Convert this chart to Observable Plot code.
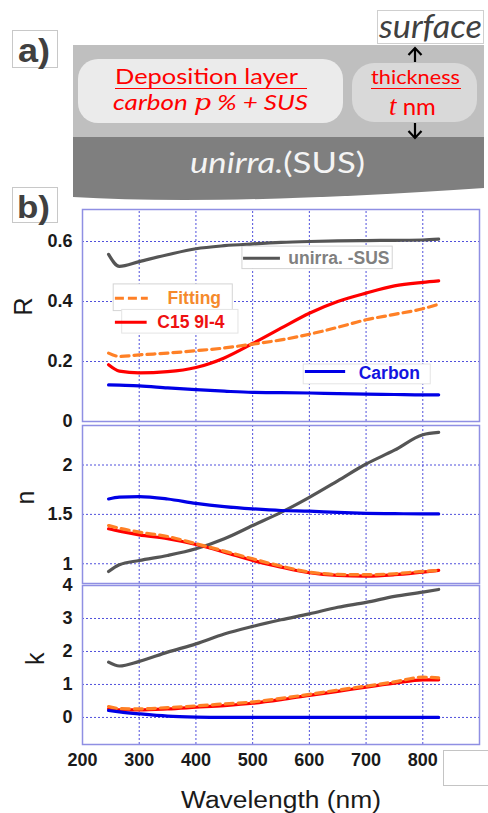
<!DOCTYPE html>
<html>
<head>
<meta charset="utf-8">
<script src="https://cdn.jsdelivr.net/npm/d3@7"></script>
<script src="https://cdn.jsdelivr.net/npm/@observablehq/plot@0.6"></script>
<style>
  html, body { margin: 0; padding: 0; background: white; }
  #root { position: relative; width: 488px; height: 813px; overflow: hidden; background: white; }
  #schem { position: absolute; left: 0; top: 0; z-index: 0; }
  .pl { position: relative; z-index: 1; width: 488px; }
</style>
</head>
<body>
<div id="root">
  <svg id="schem" width="488" height="813" font-family="Lato, 'Noto Sans', sans-serif">
    <rect x="12.5" y="30.5" width="45" height="37" fill="white" stroke="#c8c8c8"/>
    <text x="18" y="62" font-family="'Liberation Sans', Arial, sans-serif" font-weight="bold" font-size="33" fill="#404040" textLength="32" lengthAdjust="spacingAndGlyphs">a)</text>
    <rect x="73" y="45" width="411" height="92" fill="#bfbfbf"/>
    <path d="M73,137 H484 V188 Q220,206 73,197 Z" fill="#7f7f7f"/>
    <rect x="78" y="59" width="265" height="64" rx="20" fill="#ebebeb"/>
    <rect x="352" y="63" width="125" height="59" rx="22" fill="#d9d9d9"/>
    <text x="115" y="84" font-size="21" fill="#ff0000" textLength="183" lengthAdjust="spacingAndGlyphs">Deposition layer</text>
    <line x1="115" x2="307" y1="88.5" y2="88.5" stroke="#ff0000" stroke-width="1"/>
    <text x="113" y="110" font-size="21" fill="#ff0000" font-style="italic" textLength="195" lengthAdjust="spacingAndGlyphs">carbon <tspan font-family="'DejaVu Serif', 'Liberation Serif', serif" font-size="22">p</tspan> % + SUS</text>
    <text x="371" y="84" font-size="20" fill="#ff0000" textLength="89" lengthAdjust="spacingAndGlyphs">thickness</text>
    <line x1="371" x2="461" y1="88.5" y2="88.5" stroke="#ff0000" stroke-width="1"/>
    <text x="389" y="115" font-size="24" fill="#ff0000"><tspan font-family="'Liberation Serif', serif" font-style="italic" font-size="27">t</tspan> nm</text>
    <line x1="415" x2="415" y1="48" y2="62" stroke="black" stroke-width="2.2"/>
    <polyline points="408.5,55 415,48 421.5,55" fill="none" stroke="black" stroke-width="2.2"/>
    <line x1="415" x2="415" y1="123" y2="138" stroke="black" stroke-width="2.2"/>
    <polyline points="408.5,131 415,138 421.5,131" fill="none" stroke="black" stroke-width="2.2"/>
    <rect x="377.5" y="10.5" width="106" height="33" fill="white" stroke="#cfcfcf"/>
    <text x="379" y="38" font-size="32" font-style="italic" fill="#404040" textLength="103" lengthAdjust="spacingAndGlyphs">surface</text>
    <text x="190" y="173" font-size="28" fill="#f4f4f4" textLength="175" lengthAdjust="spacingAndGlyphs"><tspan font-style="italic">unirra.</tspan>(SUS)</text>
    <rect x="12.5" y="187.5" width="45" height="35" fill="white" stroke="#c8c8c8"/>
    <text x="17" y="218" font-family="'Liberation Sans', Arial, sans-serif" font-weight="bold" font-size="31" fill="#404040" textLength="33" lengthAdjust="spacingAndGlyphs">b)</text>
    <rect x="443.5" y="750.5" width="50" height="35" fill="white" stroke="#c4c4c4"/>
  </svg>
  <div class="pl" style="height:200px"></div>
  <div id="pR" class="pl"></div>
  <div id="pN" class="pl" style="margin-top:-5px"></div>
  <div id="pK" class="pl" style="margin-top:-7px"></div>
</div>
<script>
// ---------- data ----------
const wl = [246, 265, 300, 350, 400, 450, 500, 550, 600, 650, 700, 750, 800, 828];
const seriesNames = ["unirra. -SUS", "Fitting", "C15 9I-4", "Carbon"];

const R_sus    = [0.557, 0.517, 0.533, 0.556, 0.576, 0.586, 0.592, 0.597, 0.600, 0.602, 0.603, 0.604, 0.605, 0.608];
const R_fit    = [0.228, 0.217, 0.222, 0.228, 0.236, 0.245, 0.258, 0.272, 0.291, 0.314, 0.339, 0.357, 0.376, 0.391];
const R_c15    = [0.189, 0.168, 0.162, 0.166, 0.180, 0.212, 0.260, 0.311, 0.361, 0.400, 0.428, 0.452, 0.464, 0.469];
const R_carbon = [0.122, 0.121, 0.119, 0.112, 0.106, 0.101, 0.097, 0.096, 0.095, 0.093, 0.091, 0.090, 0.089, 0.089];

const n_sus    = [0.922, 0.990, 1.033, 1.084, 1.151, 1.253, 1.387, 1.520, 1.673, 1.840, 2.010, 2.150, 2.306, 2.330];
const n_fit    = [1.387, 1.360, 1.320, 1.276, 1.203, 1.128, 1.050, 0.976, 0.916, 0.892, 0.889, 0.899, 0.923, 0.932];
const n_c15    = [1.354, 1.330, 1.293, 1.253, 1.195, 1.118, 1.034, 0.966, 0.909, 0.882, 0.875, 0.889, 0.916, 0.932];
const n_carbon = [1.656, 1.675, 1.680, 1.656, 1.612, 1.579, 1.556, 1.539, 1.532, 1.520, 1.511, 1.507, 1.505, 1.505];

const k_sus    = [1.676, 1.560, 1.700, 1.980, 2.230, 2.530, 2.760, 2.960, 3.140, 3.340, 3.490, 3.670, 3.800, 3.880];
const k_fit    = [0.330, 0.270, 0.260, 0.300, 0.350, 0.410, 0.470, 0.580, 0.700, 0.830, 0.950, 1.080, 1.220, 1.200];
const k_c15    = [0.260, 0.230, 0.230, 0.260, 0.310, 0.360, 0.430, 0.540, 0.670, 0.790, 0.920, 1.040, 1.140, 1.140];
const k_carbon = [0.210, 0.170, 0.110, 0.040, 0.010, 0.000, 0.000, 0.000, 0.000, 0.000, 0.000, 0.000, 0.000, 0.000];

const xTicks = [200, 300, 400, 500, 600, 700, 800];
const xGrid  = [300, 400, 500, 600, 700, 800];
const xDomain = [200, 900];
const R_ticks = [0, 0.2, 0.4, 0.6];
const n_ticks = [1, 1.5, 2];
const k_ticks = [0, 1, 2, 3, 4];

// ---------- style ----------
const COL = { sus: "#555555", fit: "#ff8026", c15: "#ff0000", carbon: "#0000e6" };
const TXT = { sus: "#808080", fit: "#f58a2c", c15: "#ee1111", carbon: "#1414e0" };
const FRAME = "#8f8fe3", GRID = "#5050dc";
const FONT = "'Liberation Sans', Arial, Helvetica, sans-serif";

const rows = arr => wl.map((w, i) => ({ w, v: arr[i] }));

function panel({ sus, fit, c15, carbon, domain, ticks, grid, label, labelDx, height, marginBottom, xAxis, extra }) {
  const marks = [
    Plot.ruleX(xGrid, { y1: domain[0], y2: domain[1], stroke: GRID, strokeWidth: 1, strokeDasharray: "2,2" }),
    Plot.ruleY(grid, { x1: xDomain[0], x2: xDomain[1], stroke: GRID, strokeWidth: 1, strokeDasharray: "2,2" }),
    ...(extra || []),
    Plot.line(rows(sus),    { x: "w", y: "v", stroke: COL.sus, strokeWidth: 3.2, curve: "monotone-x" }),
    Plot.line(rows(c15),    { x: "w", y: "v", stroke: COL.c15, strokeWidth: 3.2, curve: "monotone-x" }),
    Plot.line(rows(fit),    { x: "w", y: "v", stroke: COL.fit, strokeWidth: 3.2, curve: "monotone-x", strokeDasharray: "8,5" }),
    Plot.line(rows(carbon), { x: "w", y: "v", stroke: COL.carbon, strokeWidth: 3.2, curve: "monotone-x" }),
    Plot.frame({ stroke: FRAME, strokeWidth: 1.5 }),
    Plot.axisY(ticks, { tickSize: 0, tickPadding: 10, fontSize: 18, fontWeight: "bold", tickFormat: d => String(d), label: null }),
    Plot.text([label], { frameAnchor: "left", dx: labelDx, rotate: -90, fontSize: 25, fontWeight: "normal" })
  ];
  if (xAxis) {
    marks.push(Plot.axisX(xTicks, { tickSize: 0, tickPadding: 9, fontSize: 18, fontWeight: "bold", tickFormat: d => String(d), label: null }));
    marks.push(Plot.text(["Wavelength (nm)"], { frameAnchor: "bottom", dy: 56, fontSize: 23, fontWeight: "normal", lineAnchor: "middle" }));
  }
  const svg = Plot.plot({
    width: 488, height, marginLeft: 82, marginRight: 9, marginTop: 9, marginBottom,
    x: { domain: xDomain, axis: null },
    y: { domain, axis: null },
    style: { fontFamily: FONT, fontWeight: "bold", color: "#1a1a1a", background: "transparent", overflow: "visible" },
    marks
  });
  d3.select(svg).selectAll("text")
    .filter(function () { return this.textContent === "Wavelength (nm)"; })
    .attr("textLength", 200).attr("lengthAdjust", "spacingAndGlyphs");
  return svg;
}

// legend for the R panel (drawn in data coordinates of that panel)
const legendR = [
  Plot.rect([seriesNames[0]], { x1: 482, x2: 747, y1: 0.508, y2: 0.583, fill: "white", stroke: "#d4d4d4", strokeWidth: 1 }),
  Plot.rect([seriesNames[1]], { x1: 255, x2: 465, y1: 0.368, y2: 0.457, fill: "white", stroke: "#d4d4d4", strokeWidth: 1 }),
  Plot.rect([seriesNames[2]], { x1: 270, x2: 475, y1: 0.293, y2: 0.372, fill: "white", stroke: "#e4e4e4", strokeWidth: 1 }),
  Plot.rect([seriesNames[3]], { x1: 590, x2: 814, y1: 0.124, y2: 0.190, fill: "white", stroke: "#e4e4e4", strokeWidth: 1 }),
  Plot.ruleY([0.544], { x1: 484, x2: 549, stroke: COL.sus, strokeWidth: 3 }),
  Plot.ruleY([0.411], { x1: 258, x2: 316, stroke: COL.fit, strokeWidth: 3, strokeDasharray: "9,4" }),
  Plot.ruleY([0.331], { x1: 258, x2: 314, stroke: COL.c15, strokeWidth: 3 }),
  Plot.ruleY([0.167], { x1: 593, x2: 664, stroke: COL.carbon, strokeWidth: 3 }),
  Plot.text([seriesNames[0]], { x: 563, y: 0.544, textAnchor: "start", fontSize: 17.5, fill: TXT.sus }),
  Plot.text([seriesNames[1]], { x: 350, y: 0.411, textAnchor: "start", fontSize: 17.5, fill: TXT.fit }),
  Plot.text([seriesNames[2]], { x: 332, y: 0.329, textAnchor: "start", fontSize: 17.5, fill: TXT.c15 }),
  Plot.text([seriesNames[3]], { x: 687, y: 0.160, textAnchor: "start", fontSize: 17.5, fill: TXT.carbon })
];

document.getElementById("pR").append(panel({
  sus: R_sus, fit: R_fit, c15: R_c15, carbon: R_carbon,
  domain: [0, 0.7067], ticks: R_ticks, grid: [0.2, 0.4, 0.6], label: "R", labelDx: -59,
  height: 221, marginBottom: 0, xAxis: false, extra: legendR
}));
document.getElementById("pN").append(panel({
  sus: n_sus, fit: n_fit, c15: n_c15, carbon: n_carbon,
  domain: [0.8, 2.4], ticks: n_ticks, grid: [1, 1.5, 2], label: "n", labelDx: -57,
  height: 167, marginBottom: 0, xAxis: false
}));
document.getElementById("pK").append(panel({
  sus: k_sus, fit: k_fit, c15: k_c15, carbon: k_carbon,
  domain: [-0.82, 4.0], ticks: k_ticks, grid: [0, 1, 2, 3], label: "k", labelDx: -47,
  height: 237, marginBottom: 69, xAxis: true
}));
</script>
</body>
</html>
